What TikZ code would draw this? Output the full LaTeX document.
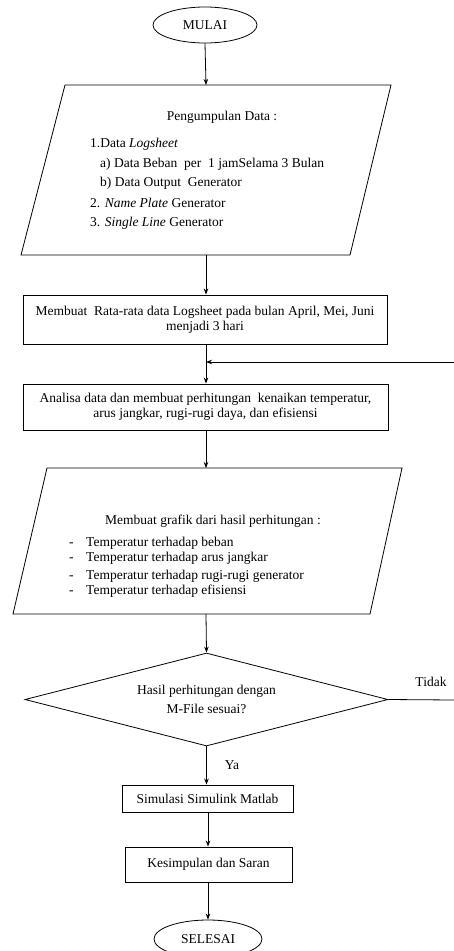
\documentclass[tikz,border=0pt]{standalone}
\usepackage{fontspec}
\setmainfont{Liberation Serif}
\usetikzlibrary{arrows.meta,shapes.geometric}
\begin{document}
\begin{tikzpicture}[x=1pt,y=-1pt,
  every node/.style={font=\fontsize{13.5}{15.5}\selectfont, inner sep=0pt},
  line/.style={draw=black, line width=0.8pt},
  arr/.style={line, -{Stealth[length=6pt,width=4.5pt]}},
  boxnode/.style={draw=black, line width=0.9pt, rectangle, align=center},
  term/.style={draw=black, line width=0.8pt, ellipse}]
\clip (0,0) rectangle (454,951);
\useasboundingbox (0,0) rectangle (454,951);
\fill[white] (0,0) rectangle (454,951);

% start
\node[term, minimum width=104pt, minimum height=36pt] (mulai) at (205,25) {MULAI};

% input 1
\coordinate (p1tl) at (65,85); \coordinate (p1tr) at (391,85);
\coordinate (p1br) at (350,255); \coordinate (p1bl) at (21,255);
\draw[line] (p1tl) -- (p1tr) -- (p1br) -- (p1bl) -- cycle;
\coordinate (p1top) at (206,85); \coordinate (p1bot) at (206,255);
\node (p1t) at (222,117) {Pengumpulan Data :};
\node[anchor=base west] (p1a) at (90,147) {1.Data \textit{Logsheet}};
\node[anchor=base west] (p1b) at (100,167) {a)\ Data Beban\ \ per\ \ 1 jamSelama 3 Bulan};
\node[anchor=base west] (p1c) at (100,186) {b)\ Data Output\ \ Generator};
\node[anchor=base west] (p1d) at (90,207) {2. \textit{Name Plate} Generator};
\node[anchor=base west] (p1e) at (90,226) {3. \textit{Single Line} Generator};

% box 1
\node[boxnode, minimum width=364pt, minimum height=49pt] (b1) at (205,319.5)
  {Membuat\ \ Rata-rata data Logsheet pada bulan April, Mei, Juni\\[0pt] menjadi 3 hari};

% box 2
\node[boxnode, minimum width=365pt, minimum height=46pt] (b2) at (205.5,407)
  {Analisa data dan membuat perhitungan\ \ kenaikan temperatur,\\[0pt] arus jangkar, rugi-rugi daya, dan efisiensi};

% input 2
\coordinate (p2tl) at (47,468); \coordinate (p2tr) at (402,468);
\coordinate (p2br) at (370,614); \coordinate (p2bl) at (13,614);
\draw[line] (p2tl) -- (p2tr) -- (p2br) -- (p2bl) -- cycle;
\coordinate (p2top) at (206,468); \coordinate (p2bot) at (206,614);
\node (p2t) at (213,521) {Membuat grafik dari hasil perhitungan :};
\foreach \yy/\tx [count=\i] in {546/Temperatur terhadap beban,561/Temperatur terhadap arus jangkar,579/Temperatur terhadap rugi-rugi generator,594/Temperatur terhadap efisiensi}{
  \node[anchor=base west] (d\i) at (69,\yy) {-};
  \node[anchor=base west] (l\i) at (86,\yy) {\tx};
}

% decision
\node[diamond, draw=black, line width=0.8pt, minimum width=363pt, minimum height=93pt, aspect=3.9, align=center] (dec) at (206.5,699.5)
  {Hasil perhitungan dengan\\[3pt] M-File sesuai?};

% boxes 3,4
\node[boxnode, minimum width=171pt, minimum height=27pt] (b3) at (207.5,798.5) {Simulasi Simulink Matlab};
\node[boxnode, minimum width=167pt, minimum height=35pt] (b4) at (208.5,864.5) {Kesimpulan dan Saran};

% end
\node[term, minimum width=108pt, minimum height=38pt] (selesai) at (208,939) {SELESAI};

% connectors
\draw[arr] (mulai.south) -- (p1top);
\draw[arr] (p1bot) -- (b1.north -| p1bot);
\draw[arr] (b1.south -| p1bot) -- (b2.north -| p1bot);
\coordinate (fbin) at (454,362);
\coordinate (fbjoin) at (206,362);
\draw[arr] (fbin) -- (fbjoin);
\draw[arr] (b2.south -| p2top) -- (p2top);
\draw[arr] (p2bot) -- (dec.north);
\coordinate (tidakend) at (454,700);
\draw[line] (dec.east) -- (tidakend);
\node (tidak) at (431,682) {Tidak};
\draw[arr] (dec.south) -- (b3.north -| dec.south);
\node (ya) at (232,765) {Ya};
\draw[arr] (b3.south -| selesai.north) -- (b4.north -| selesai.north);
\draw[arr] (b4.south -| selesai.north) -- (selesai.north);
\end{tikzpicture}
\end{document}
